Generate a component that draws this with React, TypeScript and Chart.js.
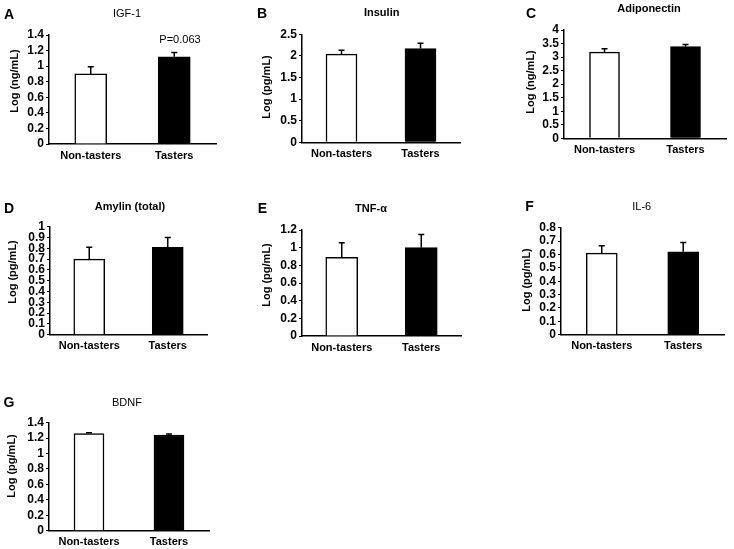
import React, { useEffect, useRef } from "react";
import { Chart, registerables } from "chart.js";
Chart.register(...registerables);

const FONT = '"Liberation Sans", Arial, Helvetica, sans-serif';

// ---- data ----
const categories = ["Non-tasters", "Tasters"];

const igf1Means = [0.9, 1.12];
const igf1Errors = [0.093, 0.055];

const insulinMeans = [2.04, 2.17];
const insulinErrors = [0.09, 0.12];

const adiponectinMeans = [3.18, 3.39];
const adiponectinErrors = [0.13, 0.07];

const amylinMeans = [0.7, 0.81];
const amylinErrors = [0.11, 0.09];

const tnfMeans = [0.89, 1.0];
const tnfErrors = [0.167, 0.15];

const il6Means = [0.61, 0.62];
const il6Errors = [0.055, 0.07];

const bdnfMeans = [1.26, 1.24];
const bdnfErrors = [0.01, 0.015];

const panelLetters = ["A", "B", "C", "D", "E", "F", "G"];
const panelTitles = ["IGF-1", "Insulin", "Adiponectin", "Amylin (total)", "TNF-\u03b1", "IL-6", "BDNF"];
const yAxisTitles = ["Log (ng/mL)", "Log (pg/mL)", "Log (ng/mL)", "Log (pg/mL)", "Log (pg/mL)", "Log (pg/mL)", "Log (pg/mL)"];
const yMaxes = [1.4, 2.5, 4, 1, 1.2, 0.8, 1.4];
const ySteps = [0.2, 0.5, 0.5, 0.1, 0.2, 0.1, 0.2];
const annotationText = "P=0.063";

type Txt = { t: string; x: number; y: number; size: number; bold: boolean; rot?: boolean };
type Panel = {
  box: { x: number; y: number; w: number; h: number };
  area: { left: number; right: number; top: number; bottom: number };
  means: number[];
  errors: number[];
  yMax: number;
  yStep: number;
  barW: number;
  texts: Txt[];
};

const meansList = [igf1Means, insulinMeans, adiponectinMeans, amylinMeans, tnfMeans, il6Means, bdnfMeans];
const errorsList = [igf1Errors, insulinErrors, adiponectinErrors, amylinErrors, tnfErrors, il6Errors, bdnfErrors];

// layout (page coordinates)
const boxes = [
  { x: 0, y: 0, w: 245, h: 170 },
  { x: 245, y: 0, w: 245, h: 170 },
  { x: 490, y: 0, w: 244, h: 170 },
  { x: 0, y: 190, w: 245, h: 170 },
  { x: 245, y: 190, w: 245, h: 170 },
  { x: 490, y: 190, w: 244, h: 170 },
  { x: 0, y: 380, w: 245, h: 169 },
];
const areas = [
  { left: 49, right: 216, top: 35, bottom: 144 },
  { left: 302, right: 460, top: 34.3, bottom: 142.3 },
  { left: 564, right: 726, top: 30, bottom: 138.3 },
  { left: 50, right: 207, top: 226.7, bottom: 334.7 },
  { left: 302, right: 461, top: 230, bottom: 336 },
  { left: 561, right: 724, top: 227.7, bottom: 334.7 },
  { left: 49, right: 209, top: 422.7, bottom: 530.7 },
];
const barWidths = [32, 31, 30, 31, 32, 31, 30];
const letterPos = [[9, 15], [262, 14], [531, 14], [9, 209], [262.5, 209], [529.5, 207], [9, 403]];
const titlePos = [[127, 14], [381.7, 13], [649, 8.5], [130, 207], [371, 209], [641.7, 207], [127, 403]];
const titleBold = [false, true, true, true, true, false, false];
const yTitlePos = [[15, 81], [267, 87], [531, 82], [13, 272], [267, 275], [527, 280], [12, 466]];

const panels: Panel[] = boxes.map((box, i) => {
  const texts: Txt[] = [
    { t: panelLetters[i], x: letterPos[i][0], y: letterPos[i][1], size: 14, bold: true },
    { t: panelTitles[i], x: titlePos[i][0], y: titlePos[i][1], size: 11, bold: titleBold[i] },
    { t: yAxisTitles[i], x: yTitlePos[i][0], y: yTitlePos[i][1], size: 11, bold: true, rot: true },
  ];
  if (i === 0) texts.push({ t: annotationText, x: 180, y: 40, size: 11, bold: false });
  return {
    box,
    area: areas[i],
    means: meansList[i],
    errors: errorsList[i],
    yMax: yMaxes[i],
    yStep: ySteps[i],
    barW: barWidths[i],
    texts,
  };
});

const XAXIS_H = 16;

function PanelChart({ p }: { p: Panel }) {
  const ref = useRef<HTMLCanvasElement>(null);
  useEffect(() => {
    const canvas = ref.current!;
    const yAxisW = p.area.left - p.box.x;
    const extras = {
      id: "extras",
      afterDatasetsDraw(chart: any) {
        const ctx = chart.ctx;
        const meta = chart.getDatasetMeta(0);
        const ys = chart.scales.y;
        ctx.save();
        ctx.strokeStyle = "#000";
        ctx.lineWidth = 1.5;
        meta.data.forEach((el: any, i: number) => {
          const x = el.x;
          const y0 = el.y;
          const y1 = ys.getPixelForValue(p.means[i] + p.errors[i]);
          ctx.beginPath();
          ctx.moveTo(x, y0);
          ctx.lineTo(x, y1);
          ctx.moveTo(x - 3, y1);
          ctx.lineTo(x + 3, y1);
          ctx.stroke();
        });
        ctx.restore();
      },
      afterDraw(chart: any) {
        const ctx = chart.ctx;
        ctx.save();
        ctx.fillStyle = "#000";
        ctx.textAlign = "center";
        ctx.textBaseline = "middle";
        p.texts.forEach((tx) => {
          ctx.save();
          ctx.font = `${tx.bold ? "bold " : ""}${tx.size}px ${FONT}`;
          ctx.translate(tx.x - p.box.x, tx.y - p.box.y);
          if (tx.rot) ctx.rotate(-Math.PI / 2);
          ctx.fillText(tx.t, 0, 0);
          ctx.restore();
        });
        ctx.restore();
      },
    };
    const chart = new Chart(canvas, {
      type: "bar",
      data: {
        labels: categories,
        datasets: [
          {
            data: p.means,
            backgroundColor: ["#ffffff", "#000000"],
            borderColor: "#000000",
            borderWidth: 1.5,
            barThickness: p.barW,
          },
        ],
      },
      options: {
        responsive: false,
        animation: false,
        layout: {
          padding: {
            left: 0,
            top: p.area.top - p.box.y,
            right: p.box.x + p.box.w - p.area.right,
            bottom: p.box.y + p.box.h - p.area.bottom - XAXIS_H,
          },
        },
        plugins: {
          legend: { display: false },
          tooltip: { enabled: false },
          title: { display: false },
        },
        scales: {
          x: {
            type: "category",
            offset: true,
            grid: { display: false, drawTicks: false },
            border: { display: true, color: "#000", width: 1.5 },
            ticks: {
              color: "#000",
              font: { family: FONT, size: 11, weight: "bold" },
              padding: 5,
              maxRotation: 0,
              autoSkip: false,
            },
            afterFit: (s: any) => {
              s.height = XAXIS_H;
            },
          },
          y: {
            min: 0,
            max: p.yMax,
            ticks: {
              stepSize: p.yStep,
              autoSkip: false,
              color: "#000",
              font: { family: FONT, size: 12, weight: "bold" },
              padding: 2,
              callback: (v: any) => String(Number(Number(v).toFixed(2))),
            },
            grid: {
              display: true,
              drawOnChartArea: false,
              drawTicks: true,
              tickLength: 3,
              color: "#000",
              lineWidth: 1,
            },
            border: { display: true, color: "#000", width: 1.5 },
            afterFit: (s: any) => {
              s.width = yAxisW;
            },
          },
        },
      } as any,
      plugins: [extras],
    });
    return () => chart.destroy();
  }, [p]);
  return (
    <canvas
      ref={ref}
      width={p.box.w}
      height={p.box.h}
      style={{ position: "absolute", left: p.box.x, top: p.box.y, width: p.box.w, height: p.box.h }}
    />
  );
}

export default function App() {
  return (
    <div style={{ position: "absolute", left: 0, top: 0, width: 734, height: 549, background: "#fff" }}>
      {panels.map((p, i) => (
        <PanelChart key={i} p={p} />
      ))}
    </div>
  );
}
